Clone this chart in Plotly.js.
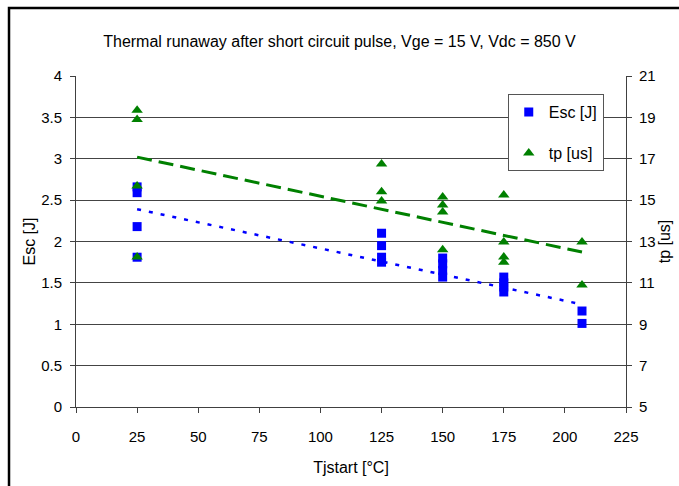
<!DOCTYPE html>
<html>
<head>
<meta charset="utf-8">
<script src="https://cdn.plot.ly/plotly-3.0.1.min.js"></script>
<style>html,body{margin:0;padding:0;background:#fff;}#chart{width:679px;height:486px;}</style>
</head>
<body>
<div id="chart"></div>
<script>
// Esc [J] measurements (left axis)
const escX = [25, 25, 25, 25, 125, 125, 125, 125, 150, 150, 150, 150, 175, 175, 175, 175, 207, 207];
const escY = [2.66, 2.59, 2.18, 1.81, 2.10, 1.95, 1.81, 1.75, 1.80, 1.73, 1.65, 1.57, 1.57, 1.50, 1.45, 1.39, 1.16, 1.01];
// tp [us] measurements (right axis)
const tpX = [25, 25, 25, 25, 125, 125, 125, 150, 150, 150, 150, 175, 175, 175, 175, 207, 207];
const tpY = [19.35, 18.9, 15.68, 12.25, 16.75, 15.4, 14.96, 15.15, 14.76, 14.42, 12.6, 15.25, 12.97, 12.25, 12.0, 12.97, 10.9];
// linear trend lines (end points)
const trendX = [25, 207];
const escTrend = [2.39, 1.24];
const tpTrend = [17.08, 12.49];

const FONT = 'Liberation Sans, Arial, sans-serif';

const traces = [
  {x: escX, y: escY, type: 'scatter', mode: 'markers', name: 'Esc [J]', legendgroup: 'a',
   marker: {symbol: 'square', size: 9, color: '#0000FF'}, yaxis: 'y'},
  {x: tpX, y: tpY, type: 'scatter', mode: 'markers', name: 'tp [us]', legendgroup: 'b',
   marker: {symbol: 'triangle-up', size: 10, color: '#008000'}, yaxis: 'y2'},
  {x: trendX, y: escTrend, type: 'scatter', mode: 'lines', showlegend: false,
   line: {color: '#0000FF', width: 2.5, dash: '4px,8px'}, yaxis: 'y'},
  {x: trendX, y: tpTrend, type: 'scatter', mode: 'lines', showlegend: false,
   line: {color: '#008000', width: 3, dash: '15px,7px'}, yaxis: 'y2'}
];

const layout = {
  width: 679, height: 486,
  margin: {l: 76, r: 53, t: 76, b: 79},
  paper_bgcolor: '#fff', plot_bgcolor: '#fff',
  font: {family: FONT, color: '#000', size: 15},
  title: {text: 'Thermal runaway after short circuit pulse, Vge = 15 V, Vdc = 850 V',
          font: {family: FONT, size: 16, color: '#000'}, x: 0.5, xanchor: 'center', y: 0.915, yanchor: 'middle'},
  showlegend: true,
  legend: {x: 0.785, y: 0.945, xanchor: 'left', yanchor: 'top', bgcolor: '#fff',
           bordercolor: '#555', borderwidth: 1, font: {family: FONT, size: 16, color: '#000'},
           tracegroupgap: 17, traceorder: 'grouped'},
  xaxis: {range: [0, 225], dtick: 25, tick0: 0, showgrid: false, zeroline: false,
          showline: true, linecolor: '#404040', linewidth: 1,
          ticks: 'outside', ticklen: 5, tickcolor: '#404040', ticklabelstandoff: 11,
          tickfont: {family: FONT, size: 15, color: '#000'},
          title: {text: 'Tjstart [°C]', font: {family: FONT, size: 16, color: '#000'}, standoff: 17}},
  yaxis: {range: [0, 4], dtick: 0.5, tick0: 0, showgrid: true, gridcolor: '#444', gridwidth: 1,
          zeroline: false, showline: true, linecolor: '#404040', linewidth: 1,
          ticks: 'outside', ticklen: 5, tickcolor: '#404040', ticklabelstandoff: 5,
          tickfont: {family: FONT, size: 15, color: '#000'},
          title: {text: 'Esc [J]', font: {family: FONT, size: 16, color: '#000'}, standoff: 1}},
  yaxis2: {range: [5, 21], dtick: 2, tick0: 5, overlaying: 'y', side: 'right', showgrid: false,
           zeroline: false, showline: true, linecolor: '#404040', linewidth: 1,
           ticks: 'outside', ticklen: 5, tickcolor: '#404040', ticklabelstandoff: 4,
           tickfont: {family: FONT, size: 15, color: '#000'},
           title: {text: 'tp [us]', font: {family: FONT, size: 16, color: '#000'}, standoff: 3}},
  shapes: [
    {type: 'rect', xref: 'paper', yref: 'paper', x0: -0.1218, x1: 1.3, y0: -0.5, y1: 1.2054,
     line: {color: '#000', width: 2.5}, fillcolor: 'rgba(0,0,0,0)', layer: 'above'}
  ]
};

Plotly.newPlot('chart', traces, layout, {displayModeBar: false, staticPlot: true});
</script>
</body>
</html>
